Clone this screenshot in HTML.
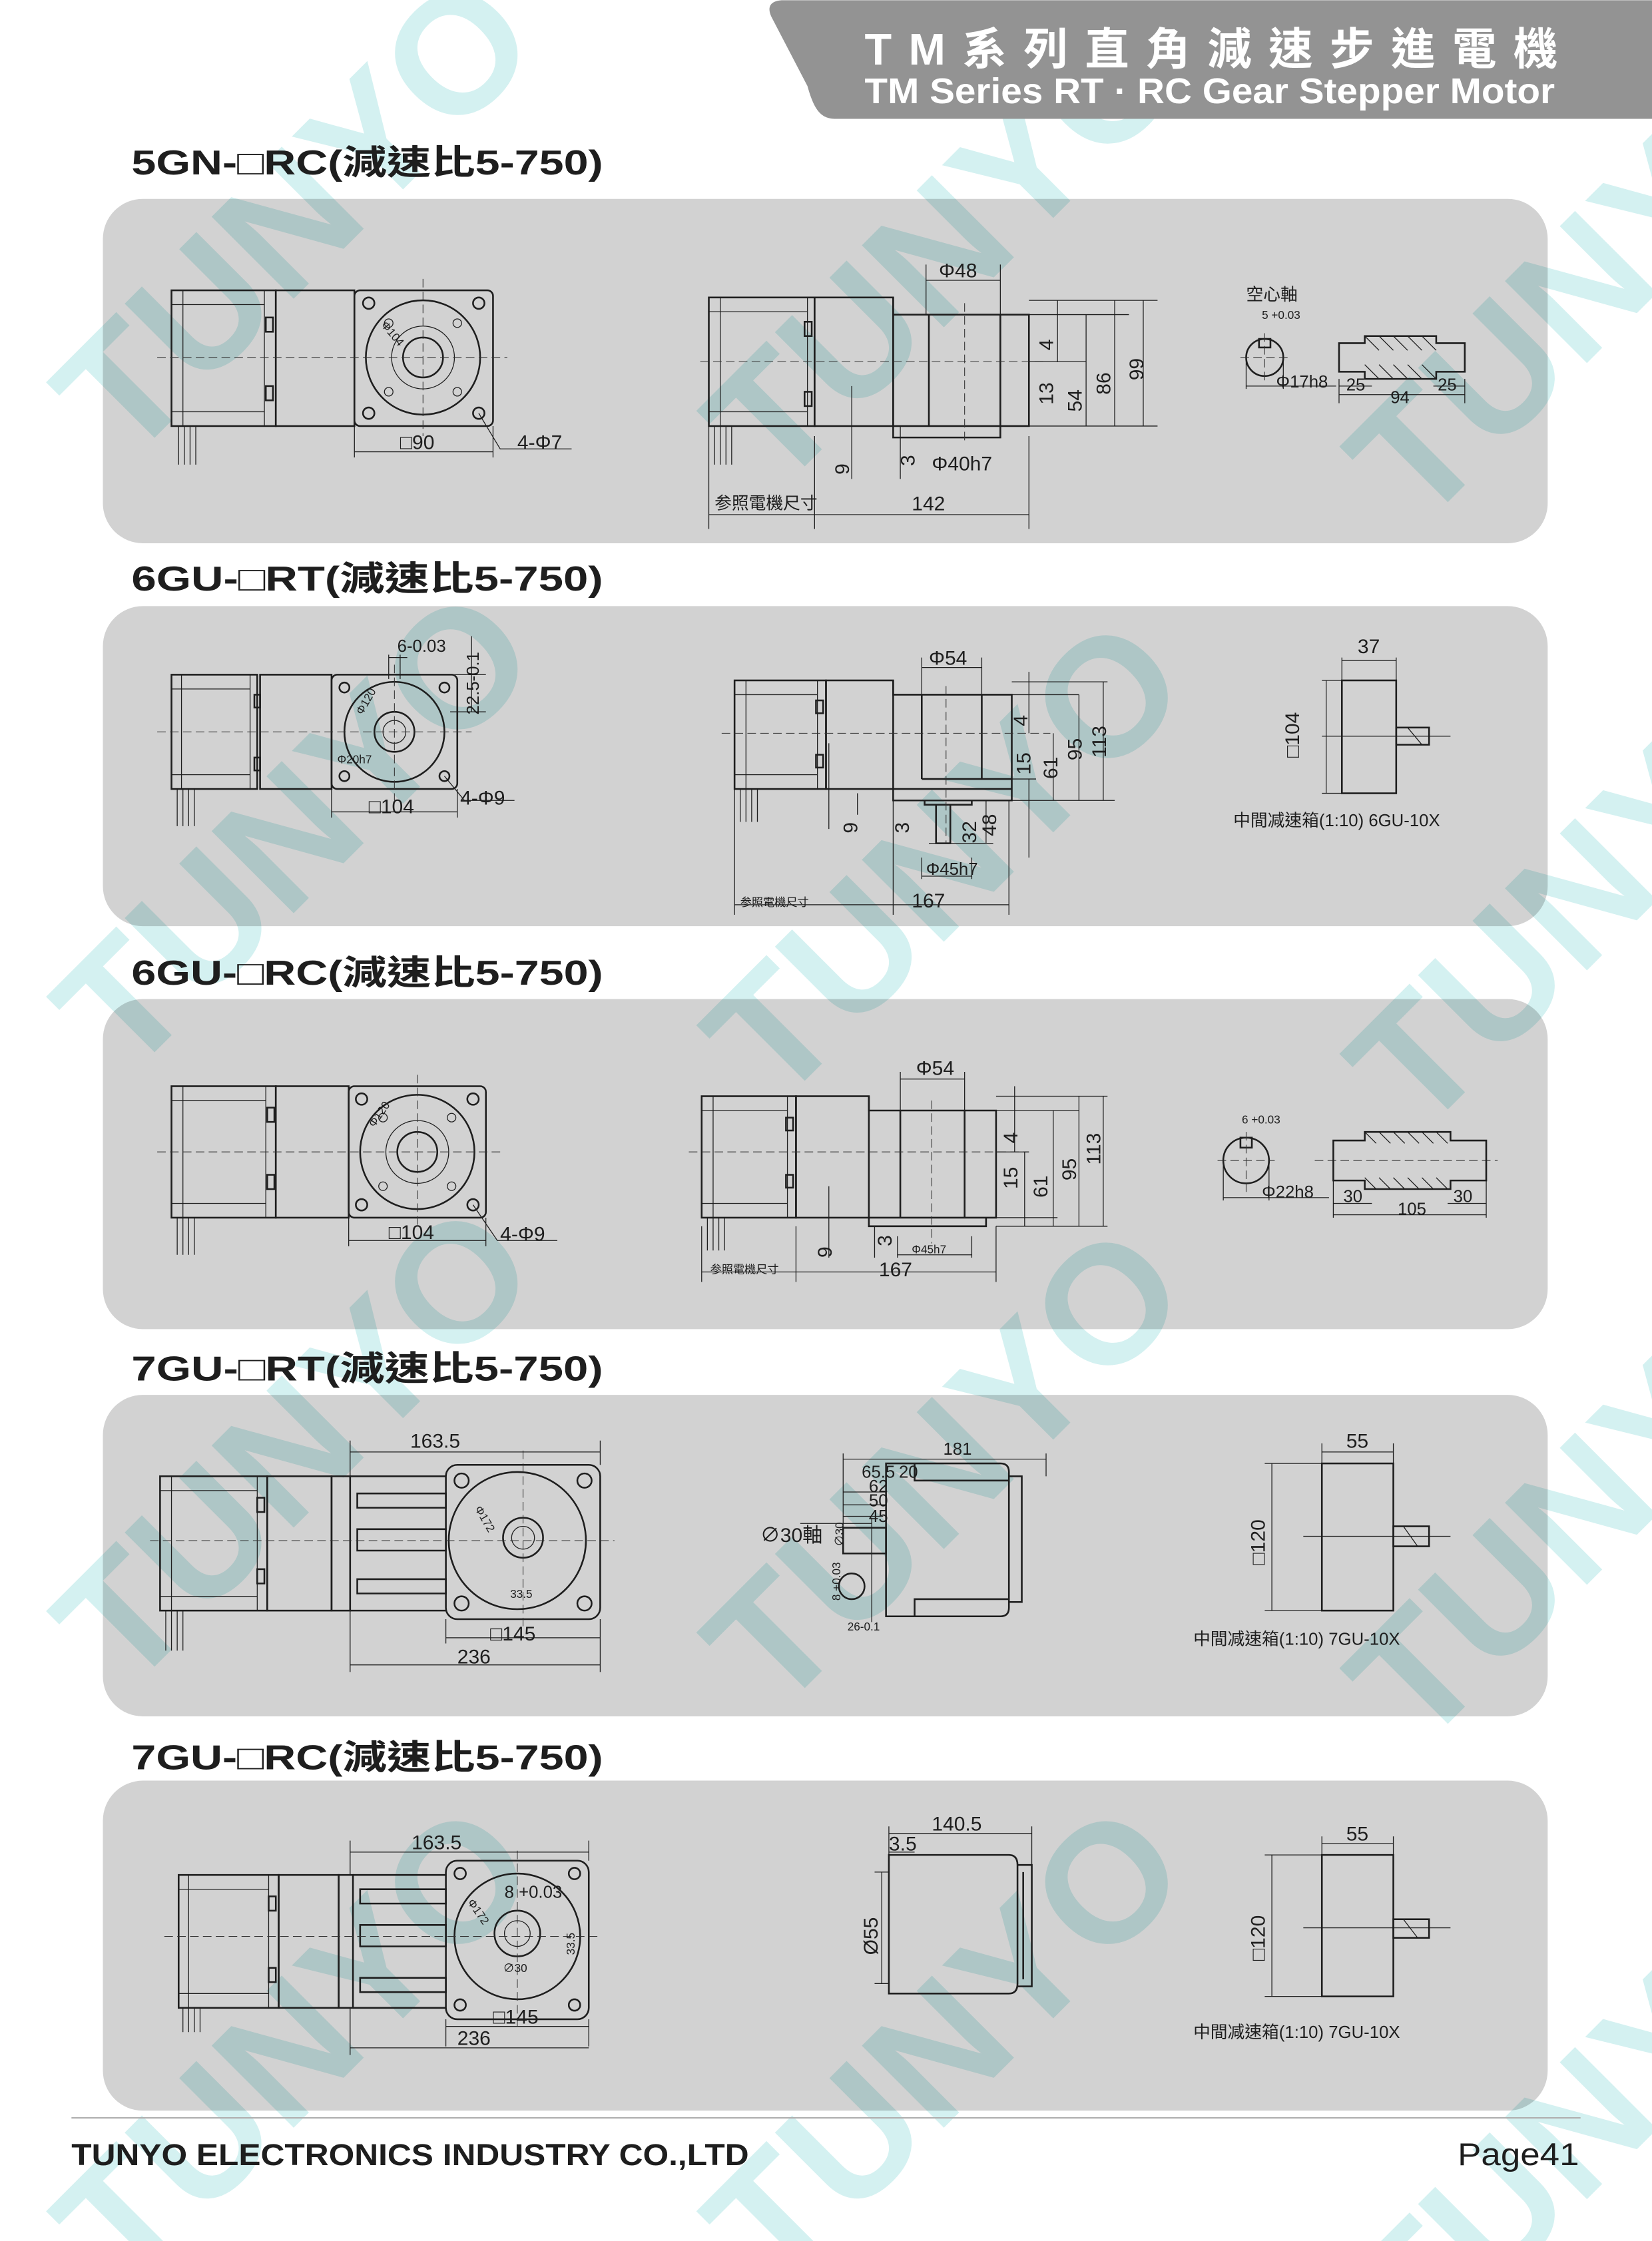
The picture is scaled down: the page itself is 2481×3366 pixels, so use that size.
<!DOCTYPE html>
<html><head><meta charset="utf-8"><style>
html,body{margin:0;padding:0;background:#fff;overflow:hidden;width:2481px;height:3366px}
svg{display:block;overflow:hidden}
.l{stroke:#1e1e1e;fill:none;stroke-width:1.2}
.t{stroke:#1e1e1e;fill:none;stroke-width:0.6}
.c{stroke:#333;fill:none;stroke-width:0.5;stroke-dasharray:6 3}
text{font-family:"Liberation Sans","Noto Sans CJK TC",sans-serif;fill:#1e1e1e}
.s{font-size:12px}.xs{font-size:8px}.m{font-size:14px}
.h{font-weight:bold;font-size:24px}
.wm text{font-family:"Liberation Sans",sans-serif;font-weight:bold;font-size:118px;fill:#d4f1f1;mix-blend-mode:multiply}
</style></head><body>
<svg width="2481" height="3366" viewBox="0 0 1156 1568" xmlns="http://www.w3.org/2000/svg">
<rect width="1156" height="1568" fill="#fff"/>
<g fill="#d2d2d2">
<rect x="72" y="139" width="1011" height="241" rx="28"/>
<rect x="72" y="424" width="1011" height="224" rx="28"/>
<rect x="72" y="699" width="1011" height="231" rx="28"/>
<rect x="72" y="976" width="1011" height="225" rx="28"/>
<rect x="72" y="1246" width="1011" height="231" rx="28"/>
</g>
<g class="wm">
<text transform="translate(205 150) rotate(-45)" text-anchor="middle" dy="42">TUNYO</text>
<text transform="translate(660 170) rotate(-45)" text-anchor="middle" dy="42">TUNYO</text>
<text transform="translate(1110 195) rotate(-45)" text-anchor="middle" dy="42">TUNYO</text>
<text transform="translate(205 580) rotate(-45)" text-anchor="middle" dy="42">TUNYO</text>
<text transform="translate(660 600) rotate(-45)" text-anchor="middle" dy="42">TUNYO</text>
<text transform="translate(1110 620) rotate(-45)" text-anchor="middle" dy="42">TUNYO</text>
<text transform="translate(205 1010) rotate(-45)" text-anchor="middle" dy="42">TUNYO</text>
<text transform="translate(660 1025) rotate(-45)" text-anchor="middle" dy="42">TUNYO</text>
<text transform="translate(1110 1050) rotate(-45)" text-anchor="middle" dy="42">TUNYO</text>
<text transform="translate(205 1430) rotate(-45)" text-anchor="middle" dy="42">TUNYO</text>
<text transform="translate(660 1430) rotate(-45)" text-anchor="middle" dy="42">TUNYO</text>
<text transform="translate(1110 1480) rotate(-45)" text-anchor="middle" dy="42">TUNYO</text>
</g>
<path d="M548 0H1156V83H585C575 83 570 78 565 60L540 12C536 4 540 0 548 0Z" fill="#939393"/>
<text x="605" y="45" font-size="31" font-weight="bold" style="fill:#fff" textLength="485" lengthAdjust="spacing">TM系列直角減速步進電機</text>
<text x="605" y="72" font-size="25" font-weight="bold" style="fill:#fff" textLength="483" lengthAdjust="spacingAndGlyphs">TM Series RT · RC Gear Stepper Motor</text>
<text class="h" x="92" y="122" textLength="330" lengthAdjust="spacingAndGlyphs">5GN-□RC(減速比5-750)</text>
<text class="h" x="92" y="413" textLength="330" lengthAdjust="spacingAndGlyphs">6GU-□RT(減速比5-750)</text>
<text class="h" x="92" y="689" textLength="330" lengthAdjust="spacingAndGlyphs">6GU-□RC(減速比5-750)</text>
<text class="h" x="92" y="966" textLength="330" lengthAdjust="spacingAndGlyphs">7GU-□RT(減速比5-750)</text>
<text class="h" x="92" y="1238" textLength="330" lengthAdjust="spacingAndGlyphs">7GU-□RC(減速比5-750)</text>

<g>
<rect class="l" x="120" y="203" width="73" height="95"/>
<path class="t" d="M120 213H185M120 288H185M128 203V298M185 203V298"/>
<rect class="l" x="186" y="222" width="5" height="10"/><rect class="l" x="186" y="270" width="5" height="10"/>
<rect class="l" x="193" y="203" width="55" height="95"/>
<path class="t" d="M125 298V325M129 298V325M133 298V325M137 298V325"/>
<rect class="l" x="248" y="203" width="97" height="95" rx="4"/>
<circle class="l" cx="296" cy="250" r="40"/><circle class="l" cx="296" cy="250" r="14"/><circle class="t" cx="296" cy="250" r="22"/>
<circle class="l" cx="258" cy="212" r="4"/><circle class="l" cx="335" cy="212" r="4"/><circle class="l" cx="258" cy="289" r="4"/><circle class="l" cx="335" cy="289" r="4"/>
<circle class="t" cx="272" cy="226" r="3"/><circle class="t" cx="320" cy="226" r="3"/><circle class="t" cx="272" cy="274" r="3"/><circle class="t" cx="320" cy="274" r="3"/>
<path class="c" d="M110 250H355M296 195V305"/>
<text class="xs" x="268" y="232" transform="rotate(50 272 228)">Φ104</text>
<path class="t" d="M248 298V320M345 298V320M248 316H345M335 289L350 314H400"/>
<text class="m" x="280" y="314">□90</text><text class="m" x="362" y="314">4-Φ7</text>

<rect class="l" x="496" y="208" width="74" height="90"/>
<path class="t" d="M496 218H565M496 288H565M504 208V298M565 208V298"/>
<rect class="l" x="563" y="225" width="5" height="10"/><rect class="l" x="563" y="274" width="5" height="10"/>
<rect class="l" x="570" y="208" width="55" height="90"/>
<path class="l" d="M625 208V220H720V298H625V208M650 220V298M700 220V298M625 298V306H700V298"/>
<path class="t" d="M500 298V325M504 298V325M508 298V325M512 298V325"/>
<path class="c" d="M490 253H730M675 212V310"/>
<path class="t" d="M648 185V220M700 185V220M648 196H700M720 210H810M720 220H790M720 298H810M720 253H760M740 210V253M760 220V298M780 210V298M800 210V298M596 270V335M630 298V335M570 305V370M720 305V370M496 290V370M570 360H720M496 360H570"/>
<text class="m" x="657" y="194">Φ48</text>
<text class="m" transform="translate(737 245) rotate(-90)">4</text>
<text class="m" transform="translate(737 283) rotate(-90)">13</text>
<text class="m" transform="translate(757 288) rotate(-90)">54</text>
<text class="m" transform="translate(777 276) rotate(-90)">86</text>
<text class="m" transform="translate(800 266) rotate(-90)">99</text>
<text class="m" transform="translate(594 332) rotate(-90)">9</text>
<text class="m" transform="translate(640 326) rotate(-90)">3</text>
<text class="m" x="652" y="329">Φ40h7</text>
<text class="s" x="500" y="356">参照電機尺寸</text><text class="m" x="638" y="357">142</text>

<text class="s" x="872" y="210">空心軸</text>
<text class="xs" x="883" y="223">5 +0.03</text>
<circle class="l" cx="885" cy="250" r="13"/><rect class="l" x="881" y="237" width="8" height="6"/>
<path class="c" d="M868 250H902M885 233V268"/>
<path class="t" d="M872 250V272M898 250V272M872 270H935"/>
<text class="s" x="893" y="271">Φ17h8</text>
<path class="l" d="M937 240H955V235H1005V240H1025V260H1005V265H955V260H937Z"/>
<path class="t" d="M955 235L965 245M965 235L975 245M975 235L985 245M985 235L995 245M995 235L1005 245M955 255L965 265M965 255L975 265M975 255L985 265M985 255L995 265M995 255L1005 265"/>
<path class="t" d="M937 265V282M1025 265V282M937 276H1025M937 270H960M1003 270H1025"/>
<text class="s" x="942" y="273">25</text><text class="s" x="973" y="282">94</text><text class="s" x="1006" y="273">25</text>
</g>

<g>
<rect class="l" x="120" y="472" width="60" height="80"/>
<path class="t" d="M120 482H175M120 542H175M127 472V552M175 472V552"/>
<rect class="l" x="178" y="486" width="4" height="9"/><rect class="l" x="178" y="530" width="4" height="9"/>
<rect class="l" x="182" y="472" width="50" height="80"/>
<path class="t" d="M124 552V578M128 552V578M132 552V578M136 552V578"/>
<rect class="l" x="232" y="472" width="88" height="80" rx="4"/>
<circle class="l" cx="276" cy="512" r="35"/><circle class="l" cx="276" cy="512" r="14"/><circle class="t" cx="276" cy="512" r="8"/>
<circle class="l" cx="241" cy="481" r="3.5"/><circle class="l" cx="311" cy="481" r="3.5"/><circle class="l" cx="241" cy="543" r="3.5"/><circle class="l" cx="311" cy="543" r="3.5"/>
<path class="c" d="M110 512H330M276 465V560"/>
<path class="t" d="M232 552V572M320 552V572M232 568H320M311 543L325 560H360M272 458V475M280 458V475M272 460H285M315 472H340M315 498H340M330 445V498"/>
<text class="s" x="278" y="456">6-0.03</text>
<text class="s" transform="translate(335 500) rotate(-90)">22.5-0.1</text>
<text class="xs" x="248" y="499" transform="rotate(-60 252 495)">Φ120</text>
<text class="xs" x="236" y="534">Φ20h7</text>
<text class="m" x="258" y="569">□104</text><text class="m" x="322" y="563">4-Φ9</text>

<rect class="l" x="514" y="476" width="64" height="76"/>
<path class="t" d="M514 486H572M514 542H572M522 476V552M572 476V552"/>
<rect class="l" x="571" y="490" width="5" height="9"/><rect class="l" x="571" y="528" width="5" height="9"/>
<rect class="l" x="578" y="476" width="47" height="76"/>
<path class="l" d="M625 476V486H708V552H625M645 486V545M687 486V545M645 545H708M625 552V560H708V545M647 560V563H680V560M655 563V590H665V563"/>
<path class="t" d="M518 552V575M522 552V575M526 552V575M530 552V575"/>
<path class="c" d="M505 513H735M662 480V590"/>
<path class="t" d="M645 460V486M687 460V486M645 467H687M708 477H775M708 486H755M708 545H725M708 560H780M720 470V513M720 545V600M737 513V560M755 486V560M772 477V560M580 520V580M600 555V570M625 560V640M514 552V640M706 560V640M514 633H578M578 633H706M645 600V615M680 600V615M645 613H680M650 590H695M690 560V590"/>
<text class="m" x="650" y="465">Φ54</text>
<text class="m" transform="translate(719 508) rotate(-90)">4</text>
<text class="m" transform="translate(721 542) rotate(-90)">15</text>
<text class="m" transform="translate(740 545) rotate(-90)">61</text>
<text class="m" transform="translate(757 532) rotate(-90)">95</text>
<text class="m" transform="translate(774 530) rotate(-90)">113</text>
<text class="m" transform="translate(600 583) rotate(-90)">9</text>
<text class="m" transform="translate(636 583) rotate(-90)">3</text>
<text class="m" transform="translate(683 590) rotate(-90)">32</text>
<text class="m" transform="translate(697 585) rotate(-90)">48</text>
<text class="s" x="648" y="612">Φ45h7</text>
<text class="xs" x="518" y="634">参照電機尺寸</text><text class="m" x="638" y="635">167</text>

<rect class="l" x="939" y="476" width="38" height="79"/>
<rect class="l" x="977" y="509" width="23" height="12"/>
<path class="t" d="M985 509L995 521M925 515H1015M939 460V476M977 460V476M939 462H977M925 476H939M925 555H939M928 476V555"/>
<text class="m" x="950" y="457">37</text>
<text class="m" transform="translate(909 530) rotate(-90)">□104</text>
<text class="s" x="863" y="578">中間减速箱(1:10)  6GU-10X</text>
</g>

<g>
<rect class="l" x="120" y="760" width="73" height="92"/>
<path class="t" d="M120 770H186M120 842H186M128 760V852M186 760V852"/>
<rect class="l" x="187" y="775" width="5" height="10"/><rect class="l" x="187" y="822" width="5" height="10"/>
<rect class="l" x="193" y="760" width="51" height="92"/>
<path class="t" d="M124 852V878M128 852V878M132 852V878M136 852V878"/>
<rect class="l" x="244" y="760" width="96" height="92" rx="4"/>
<circle class="l" cx="292" cy="806" r="40"/><circle class="l" cx="292" cy="806" r="14"/><circle class="t" cx="292" cy="806" r="22"/>
<circle class="l" cx="253" cy="769" r="4"/><circle class="l" cx="331" cy="769" r="4"/><circle class="l" cx="253" cy="843" r="4"/><circle class="l" cx="331" cy="843" r="4"/>
<circle class="t" cx="268" cy="782" r="3"/><circle class="t" cx="316" cy="782" r="3"/><circle class="t" cx="268" cy="830" r="3"/><circle class="t" cx="316" cy="830" r="3"/>
<path class="c" d="M110 806H350M292 752V860"/>
<text class="xs" x="256" y="786" transform="rotate(-55 262 782)">Φ120</text>
<path class="t" d="M244 852V872M340 852V872M244 868H340M331 843L348 868H390"/>
<text class="m" x="272" y="867">□104</text><text class="m" x="350" y="868">4-Φ9</text>

<rect class="l" x="491" y="767" width="66" height="85"/>
<path class="t" d="M491 777H551M491 842H551M499 767V852M551 767V852"/>
<rect class="l" x="550" y="782" width="5" height="9"/><rect class="l" x="550" y="822" width="5" height="9"/>
<rect class="l" x="557" y="767" width="51" height="85"/>
<path class="l" d="M608 767V777H697V852H608M630 777V852M675 777V852M608 852V858H690V852"/>
<path class="t" d="M495 852V875M499 852V875M503 852V875M507 852V875"/>
<path class="c" d="M482 806H720M652 770V870"/>
<path class="t" d="M630 750V777M675 750V777M630 755H675M697 767H775M697 777H755M697 806H720M697 852H740M697 858H775M710 760V806M717 806V858M737 777V858M755 767V858M772 767V858M580 830V880M612 858V880M557 858V897M491 858V897M697 858V897M491 890H557M557 890H697M628 865V880M680 865V880M628 878H680"/>
<text class="m" x="641" y="752">Φ54</text>
<text class="m" transform="translate(712 800) rotate(-90)">4</text>
<text class="m" transform="translate(712 832) rotate(-90)">15</text>
<text class="m" transform="translate(733 838) rotate(-90)">61</text>
<text class="m" transform="translate(753 826) rotate(-90)">95</text>
<text class="m" transform="translate(770 815) rotate(-90)">113</text>
<text class="m" transform="translate(582 880) rotate(-90)">9</text>
<text class="m" transform="translate(624 872) rotate(-90)">3</text>
<text class="xs" x="638" y="877">Φ45h7</text>
<text class="xs" x="497" y="891">参照電機尺寸</text><text class="m" x="615" y="893">167</text>

<circle class="l" cx="872" cy="812" r="16"/><rect class="l" x="868" y="796" width="8" height="7"/>
<path class="c" d="M852 812H892M872 792V834M920 812H1048"/>
<text class="xs" x="869" y="786">6 +0.03</text>
<path class="t" d="M856 812V840M888 812V840M856 838H930"/>
<text class="s" x="883" y="838">Φ22h8</text>
<path class="l" d="M933 798H955V792H1015V798H1040V826H1015V832H955V826H933Z"/>
<path class="t" d="M955 792L963 800M965 792L973 800M975 792L983 800M985 792L993 800M995 792L1003 800M1005 792L1013 800M955 824L963 832M965 824L973 832M975 824L983 832M985 824L993 832M995 824L1003 832M1005 824L1013 832"/>
<path class="t" d="M933 826V852M1040 826V852M933 842H960M1013 842H1040M933 850H1040"/>
<text class="s" x="940" y="841">30</text><text class="s" x="978" y="850">105</text><text class="s" x="1017" y="841">30</text>
</g>

<g>
<rect class="l" x="112" y="1033" width="75" height="94"/>
<path class="t" d="M112 1043H180M112 1117H180M120 1033V1127M180 1033V1127"/>
<rect class="l" x="180" y="1048" width="5" height="10"/><rect class="l" x="180" y="1098" width="5" height="10"/>
<rect class="l" x="187" y="1033" width="45" height="94"/>
<rect class="l" x="232" y="1033" width="13" height="94"/>
<path class="t" d="M116 1127V1155M120 1127V1155M124 1127V1155M128 1127V1155"/>
<path class="l" d="M245 1033H312M245 1127H312M250 1045H312V1055H250ZM250 1070H312V1085H250ZM250 1105H312V1115H250Z"/>
<rect class="l" x="312" y="1025" width="108" height="108" rx="8"/>
<circle class="l" cx="362" cy="1078" r="48"/><circle class="l" cx="366" cy="1076" r="14"/><circle class="t" cx="366" cy="1076" r="8"/>
<circle class="l" cx="323" cy="1036" r="5"/><circle class="l" cx="409" cy="1036" r="5"/><circle class="l" cx="323" cy="1122" r="5"/><circle class="l" cx="409" cy="1122" r="5"/>
<path class="c" d="M105 1078H430M366 1015V1140"/>
<path class="t" d="M245 1008V1033M420 1008V1025M245 1016H420M312 1133V1150M420 1133V1150M312 1146H420M245 1127V1170M245 1165H420M420 1150V1170"/>
<text class="m" x="287" y="1013">163.5</text><text class="m" x="343" y="1148">□145</text><text class="m" x="320" y="1164">236</text>
<text class="xs" x="333" y="1062" transform="rotate(60 338 1058)">Φ172</text>
<text class="xs" x="357" y="1118">33.5</text>

<path class="l" d="M620 1024H700Q706 1024 706 1030V1125Q706 1131 700 1131H620Z"/>
<path class="l" d="M640 1024V1036H706M640 1131V1119H706M706 1033H715V1121H706"/>
<rect class="l" x="590" y="1069" width="30" height="18"/>
<circle class="l" cx="596" cy="1110" r="9"/>
<path class="t" d="M590 1017V1069M732 1017V1033M590 1021H732M590 1044H620M590 1053H620M590 1061H618M590 1066H610M560 1066H605M610 1062V1135"/>
<text class="s" x="660" y="1018">181</text>
<text class="s" x="603" y="1034">65.5</text><text class="s" x="629" y="1034">20</text>
<text class="s" x="608" y="1044">62</text><text class="s" x="608" y="1054">50</text><text class="s" x="608" y="1065">45</text>
<text class="m" x="532" y="1079">∅30軸</text>
<text class="xs" transform="translate(590 1082) rotate(-90)">∅30</text>
<text class="xs" transform="translate(588 1120) rotate(-90)">8 +0.03</text>
<text class="xs" x="593" y="1141">26-0.1</text>

<rect class="l" x="925" y="1024" width="50" height="103"/>
<rect class="l" x="975" y="1068" width="25" height="14"/>
<path class="t" d="M982 1068L992 1082M912 1075H1015M925 1010V1024M975 1010V1024M925 1016H975M885 1024H925M885 1127H925M890 1024V1127"/>
<text class="m" x="942" y="1013">55</text>
<text class="m" transform="translate(885 1095) rotate(-90)">□120</text>
<text class="s" x="835" y="1151">中間减速箱(1:10)  7GU-10X</text>
</g>

<g>
<rect class="l" x="125" y="1312" width="70" height="93"/>
<path class="t" d="M125 1322H188M125 1395H188M132 1312V1405M188 1312V1405"/>
<rect class="l" x="188" y="1327" width="5" height="10"/><rect class="l" x="188" y="1377" width="5" height="10"/>
<rect class="l" x="195" y="1312" width="42" height="93"/>
<rect class="l" x="237" y="1312" width="10" height="93"/>
<path class="t" d="M128 1405V1422M132 1405V1422M136 1405V1422M140 1405V1422"/>
<path class="l" d="M247 1312H312M247 1405H312M252 1322H312V1332H252ZM252 1347H312V1362H252ZM252 1384H312V1394H252Z"/>
<rect class="l" x="312" y="1302" width="100" height="111" rx="8"/>
<circle class="l" cx="362" cy="1355" r="44"/><circle class="l" cx="362" cy="1353" r="16"/><circle class="t" cx="362" cy="1353" r="9"/>
<circle class="l" cx="322" cy="1311" r="4"/><circle class="l" cx="402" cy="1311" r="4"/><circle class="l" cx="322" cy="1403" r="4"/><circle class="l" cx="402" cy="1403" r="4"/>
<path class="c" d="M115 1355H420M362 1295V1420"/>
<path class="t" d="M245 1288V1312M412 1288V1302M245 1296H412M312 1413V1432M412 1413V1432M312 1418H412M245 1405V1438M245 1433H412"/>
<text class="m" x="288" y="1294">163.5</text><text class="m" x="345" y="1416">□145</text><text class="m" x="320" y="1431">236</text>
<text class="s" x="353" y="1328">8 +0.03</text>
<text class="xs" x="328" y="1337" transform="rotate(55 333 1333)">Φ172</text>
<text class="xs" transform="translate(402 1368) rotate(-90)">33.5</text>
<text class="xs" x="352" y="1380">∅30</text>

<path class="l" d="M622 1298H706Q712 1298 712 1305V1388Q712 1395 706 1395H622Z"/>
<path class="l" d="M712 1305H722V1390H712M716 1310V1385"/>
<path class="t" d="M622 1278V1298M722 1278V1305M622 1283H722M622 1296H640M617 1310V1388M612 1310H622M612 1388H622"/>
<text class="m" x="652" y="1281">140.5</text><text class="m" x="622" y="1295">3.5</text>
<text class="m" transform="translate(614 1368) rotate(-90)">Ø55</text>

<rect class="l" x="925" y="1298" width="50" height="99"/>
<rect class="l" x="975" y="1343" width="25" height="13"/>
<path class="t" d="M982 1343L992 1356M912 1349H1015M925 1285V1298M975 1285V1298M925 1290H975M885 1298H925M885 1397H925M890 1298V1397"/>
<text class="m" x="942" y="1288">55</text>
<text class="m" transform="translate(885 1372) rotate(-90)">□120</text>
<text class="s" x="835" y="1426">中間减速箱(1:10)  7GU-10X</text>
</g>

<line x1="50" y1="1482" x2="1106" y2="1482" stroke="#b0b0b0" stroke-width="1"/>
<text x="50" y="1515" font-size="21" font-weight="bold" textLength="474" lengthAdjust="spacingAndGlyphs">TUNYO ELECTRONICS INDUSTRY CO.,LTD</text>
<text x="1020" y="1515" font-size="22" textLength="85" lengthAdjust="spacingAndGlyphs">Page41</text>
</svg>
</body></html>
